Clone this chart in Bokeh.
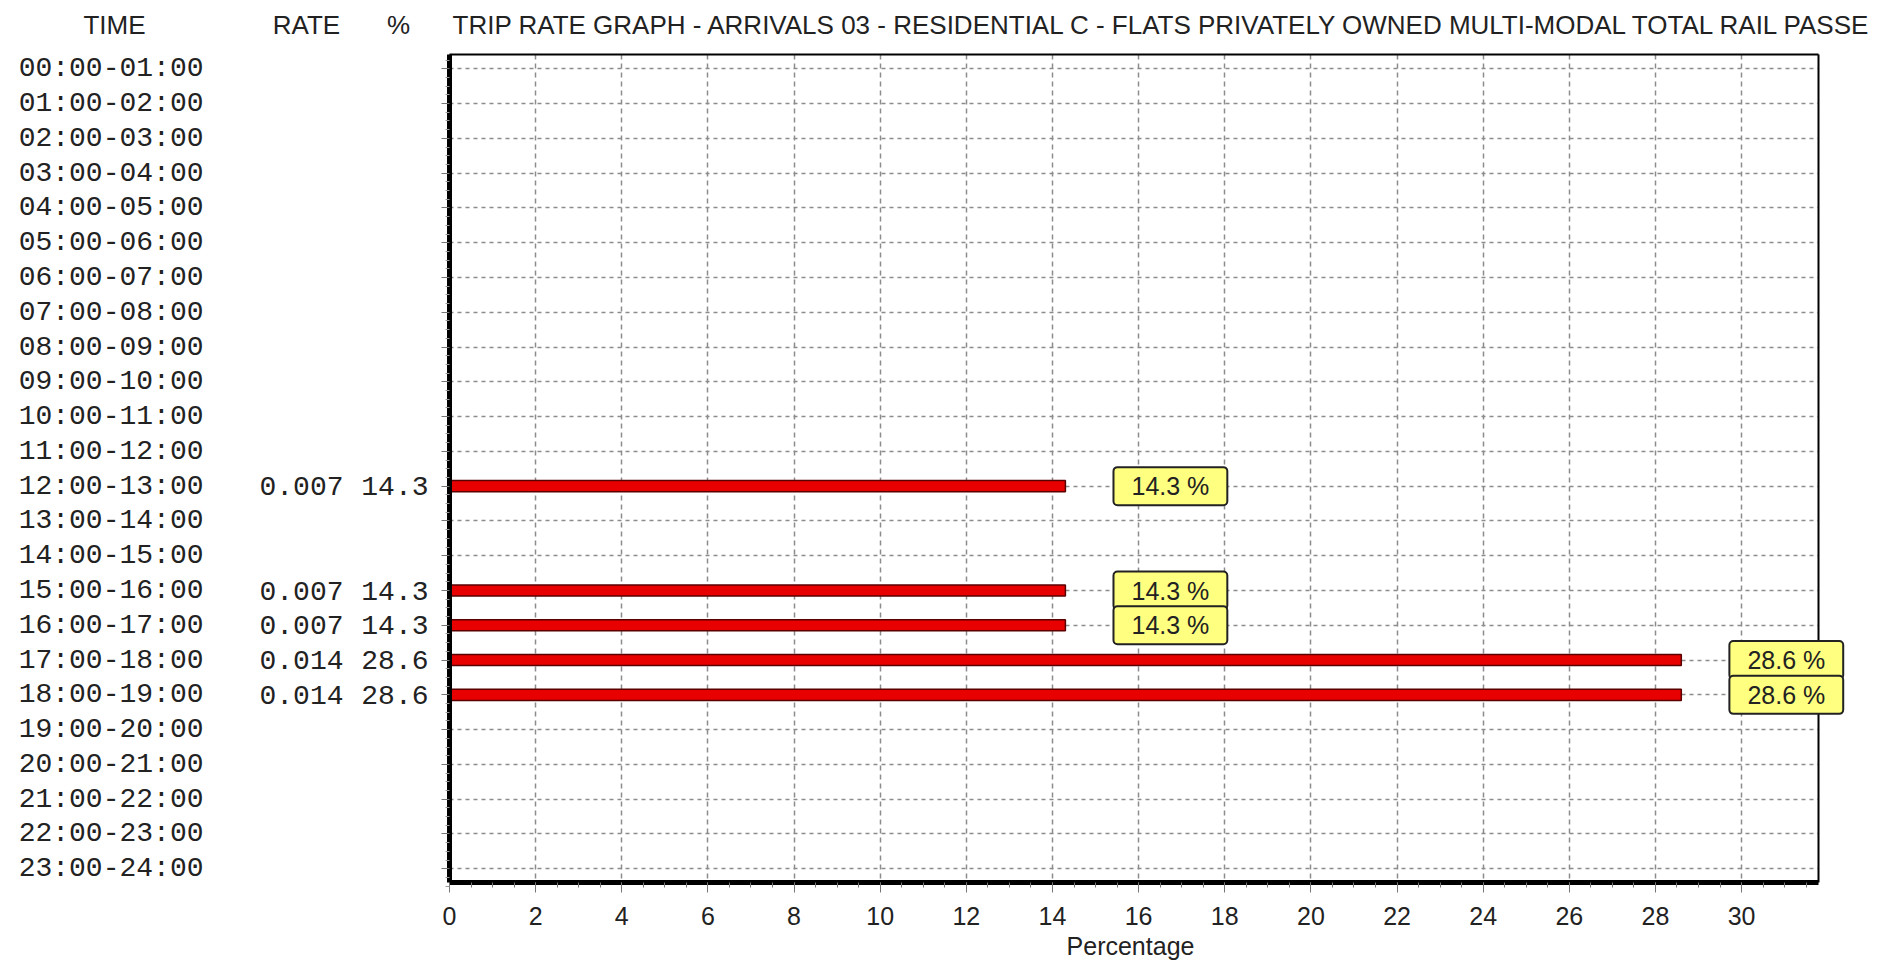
from bokeh.plotting import figure
from bokeh.models import Range1d, FixedTicker, SingleIntervalTicker, LinearAxis, Label
from bokeh.embed import file_html
from bokeh.resources import INLINE

# ---------------- data ----------------
TIME_SLOTS = ["00:00-01:00", "01:00-02:00", "02:00-03:00", "03:00-04:00",
              "04:00-05:00", "05:00-06:00", "06:00-07:00", "07:00-08:00",
              "08:00-09:00", "09:00-10:00", "10:00-11:00", "11:00-12:00",
              "12:00-13:00", "13:00-14:00", "14:00-15:00", "15:00-16:00",
              "16:00-17:00", "17:00-18:00", "18:00-19:00", "19:00-20:00",
              "20:00-21:00", "21:00-22:00", "22:00-23:00", "23:00-24:00"]
RATE = [None, None, None, None, None, None, None, None, None, None, None, None,
        0.007, None, None, 0.007, 0.007, 0.014, 0.014, None, None, None, None, None]
PERCENT = [None, None, None, None, None, None, None, None, None, None, None, None,
           14.3, None, None, 14.3, 14.3, 28.6, 28.6, None, None, None, None, None]
X_TICK_STEP = 2
TITLE = "TRIP RATE GRAPH - ARRIVALS  03 - RESIDENTIAL  C - FLATS PRIVATELY OWNED    MULTI-MODAL  TOTAL RAIL PASSE"
HEADERS = ["TIME", "RATE", "%"]
X_LABEL = "Percentage"

# ---------------- layout (pixels of the page) ----------------
W, H = 1891, 965
PAGE_OFF = 0
X0_PAGE = 449               # page x of value 0
PX_PER_X = 43.07
ROW0_PAGE = 68.3            # page y of first row centre
PX_PER_ROW = 34.78
PLOT_RIGHT = 31.78
PLOT_TOP = -0.41
PLOT_BOTTOM = 23.40

def dx(page_x):
    return (page_x - X0_PAGE) / PX_PER_X

def dy(page_y):
    return (page_y - ROW0_PAGE) / PX_PER_ROW

x_start = dx(PAGE_OFF)
x_end = dx(PAGE_OFF + W)
y_top = dy(PAGE_OFF)
y_bottom = dy(PAGE_OFF + H)

SANS = "Liberation Sans"
MONO = "Liberation Mono"
TXT = "#222222"
GRID = "#8c8c8c"
TICK = "#777777"

rows = list(range(len(TIME_SLOTS)))
bar_rows = [r for r, v in zip(rows, PERCENT) if v is not None]
bar_vals = [v for v in PERCENT if v is not None]

p = figure(width=W, height=H, output_backend="svg", toolbar_location=None,
           x_range=Range1d(x_start, x_end), y_range=Range1d(y_bottom, y_top),
           min_border=0)
p.outline_line_color = None
p.background_fill_color = "white"
p.border_fill_color = "white"

# ---- x axis (bottom of plot area) ----
xa = p.xaxis[0]
xa.fixed_location = PLOT_BOTTOM
xa.bounds = (0, PLOT_RIGHT)
xa.ticker = SingleIntervalTicker(interval=X_TICK_STEP, num_minor_ticks=4)
xa.axis_line_width = 5
xa.axis_line_color = "black"
xa.major_tick_in = 0
xa.major_tick_out = 10
xa.minor_tick_in = 0
xa.minor_tick_out = 5
xa.major_tick_line_color = TICK
xa.minor_tick_line_color = TICK
xa.major_label_text_font = SANS
xa.major_label_text_font_size = "25px"
xa.major_label_text_color = TXT
xa.major_label_standoff = 14

# ---- y axes at value 0: % column (with ticks), rate column, time column ----
ya = p.yaxis[0]
ya.fixed_location = 0
ya.bounds = (PLOT_TOP, PLOT_BOTTOM)
ya.ticker = FixedTicker(ticks=rows, minor_ticks=[r + q for r in rows for q in (-0.25, 0.25, 0.5)])
ya.major_label_overrides = {r: ("" if v is None else f"{v:.1f}") for r, v in zip(rows, PERCENT)}
ya.axis_line_width = 5
ya.axis_line_color = "black"
ya.major_tick_in = 0
ya.major_tick_out = 8
ya.minor_tick_in = 0
ya.minor_tick_out = 4
ya.major_tick_line_color = TICK
ya.minor_tick_line_color = "#9a9a9a"
ya.major_label_text_font = MONO
ya.major_label_text_font_size = "28px"
ya.major_label_text_color = TXT
ya.major_label_standoff = 13


def label_axis(texts, standoff):
    ax = LinearAxis(fixed_location=0, bounds=(PLOT_TOP, PLOT_BOTTOM),
                    ticker=FixedTicker(ticks=rows))
    ax.major_label_overrides = {r: t for r, t in zip(rows, texts)}
    ax.axis_line_color = None
    ax.major_tick_line_color = None
    ax.minor_tick_line_color = None
    ax.major_tick_in = 0
    ax.major_tick_out = 0
    ax.major_label_text_font = MONO
    ax.major_label_text_font_size = "28px"
    ax.major_label_text_color = TXT
    ax.major_label_standoff = standoff
    p.add_layout(ax, "left")


label_axis(["" if v is None else f"{v:.3f}" for v in RATE], X0_PAGE - 343)
label_axis(TIME_SLOTS, X0_PAGE - 203)

# ---- frame top / right borders ----
top_ax = LinearAxis(fixed_location=PLOT_TOP, bounds=(0, PLOT_RIGHT), ticker=FixedTicker(ticks=[]))
top_ax.axis_line_width = 2
top_ax.axis_line_color = "black"
p.add_layout(top_ax, "above")
right_ax = LinearAxis(fixed_location=PLOT_RIGHT, bounds=(PLOT_TOP, PLOT_BOTTOM), ticker=FixedTicker(ticks=[]))
right_ax.axis_line_width = 2
right_ax.axis_line_color = "black"
p.add_layout(right_ax, "right")

# ---- grids ----
p.xgrid.grid_line_color = GRID
p.xgrid.grid_line_dash = "5 4"
p.xgrid.grid_line_width = 1.5
p.xgrid.cross_bounds = (PLOT_TOP, PLOT_BOTTOM)
p.ygrid.grid_line_color = GRID
p.ygrid.grid_line_dash = "4 4"
p.ygrid.grid_line_width = 1.5
p.ygrid.cross_bounds = (0, PLOT_RIGHT)

# ---- bars ----
p.hbar(y=bar_rows, left=0, right=bar_vals, height=0.32,
       fill_color="#e80000", line_color="#5a0000", line_width=1.5)

# ---- value boxes ----
for r, v in zip(bar_rows, bar_vals):
    p.add_layout(Label(x=v, y=r, text=f"{v:.1f} %", x_offset=105,
                       text_align="center", text_baseline="middle", text_font=SANS,
                       text_font_size="25px", text_color=TXT,
                       background_fill_color="#ffff80", border_line_color="#222222",
                       border_line_width=2, padding=(18, 5), border_radius=4))

# ---- title, column headers, x axis label ----
p.add_layout(Label(x=dx(452), y=dy(24), text=TITLE, text_align="left",
                   text_baseline="middle", text_font=SANS, text_font_size="26px",
                   text_color=TXT))
for txt, cx in zip(HEADERS, [114, 306, 398]):
    p.add_layout(Label(x=dx(cx), y=dy(24), text=txt, text_align="center",
                       text_baseline="middle", text_font=SANS, text_font_size="26px",
                       text_color=TXT))
p.add_layout(Label(x=dx(1130), y=dy(945), text=X_LABEL, text_align="center",
                   text_baseline="middle", text_font=SANS, text_font_size="25px",
                   text_color=TXT))

open("out.html", "w").write(file_html(p, INLINE))
